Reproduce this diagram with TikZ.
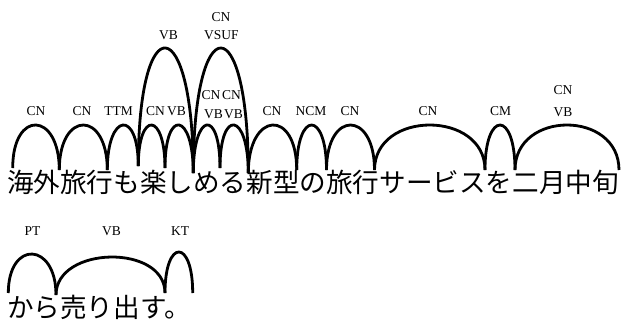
\documentclass[tikz,border=0pt]{standalone}
\usepackage{fontspec}
\setmainfont{Liberation Serif}
\newfontfamily\jpfont{Noto Sans CJK JP}
\tikzset{
  arcline/.style={line width=2.8pt},
  tag/.style={font=\fontsize{13.5}{13.5}\selectfont, inner sep=0pt},
  sent/.style={font=\jpfont\fontsize{26.6}{26.6}\selectfont, inner sep=0pt, anchor=base west},
}
% dependency arc between two named points, #3 = vertical reach of the control points
\newcommand\depcurve[3]{\draw[arcline] (#1) .. controls +(0,-#3) and +(0,-#3) .. (#2);}
\begin{document}
\begin{tikzpicture}[x=1pt,y=-1pt]
\useasboundingbox (0,0) rectangle (621,322);

% sentences
\node[sent] (s1) at (7,192) {海外旅行も楽しめる新型の旅行サービスを二月中旬};
\node[sent] (s2) at (7,317.5) {から売り出す。};

% arc end points, first line
\coordinate (p0) at (12.7,168);
\coordinate (p1) at (59.3,170);
\coordinate (p2) at (107.3,170);
\coordinate (p3) at (138.3,166);
\coordinate (p4) at (165,168);
\coordinate (p5) at (193.3,173);
\coordinate (p6) at (220,168);
\coordinate (p7) at (248.3,173);
\coordinate (p8) at (296.7,170);
\coordinate (p9) at (326.5,170);
\coordinate (p10) at (374.5,170);
\coordinate (p11) at (485,170);
\coordinate (p12) at (515,170);
\coordinate (p13) at (619,170);

% arc end points, second line
\coordinate (q0) at (8.3,293);
\coordinate (q1) at (56,295);
\coordinate (q2) at (165,293);
\coordinate (q3) at (192.7,293);

% first line arcs
\depcurve{p0}{p1}{58.7}
\depcurve{p1}{p2}{60}
\depcurve{p2}{p3}{57.3}
\depcurve{p3}{p4}{56}
\depcurve{p4}{p5}{60.7}
\depcurve{p5}{p6}{60.7}
\depcurve{p6}{p7}{60.7}
\depcurve{p7}{p8}{62}
\depcurve{p8}{p9}{60}
\depcurve{p9}{p10}{60}
\depcurve{p10}{p11}{60}
\depcurve{p11}{p12}{60}
\depcurve{p12}{p13}{60}
\depcurve{p3}{p5}{162}
\depcurve{p5}{p7}{166.7}

% second line arcs
\depcurve{q0}{q1}{53.3}
\depcurve{q1}{q2}{49.3}
\depcurve{q2}{q3}{54.7}

% first line labels
\node[tag] (l1) at (36,111.5) {CN};
\node[tag] (l2) at (82,111.5) {CN};
\node[tag] (l3) at (118.5,111.5) {TTM};
\node[tag] (l4) at (155.5,111.5) {CN};
\node[tag] (l5) at (176.5,111.5) {VB};
\node[tag] (l6a) at (211,95.5) {CN};
\node[tag] (l6b) at (213.5,114) {VB};
\node[tag] (l7a) at (231.5,95.5) {CN};
\node[tag] (l7b) at (233.5,114) {VB};
\node[tag] (l8) at (272,111.5) {CN};
\node[tag] (l9) at (311,111.5) {NCM};
\node[tag] (l10) at (350,111.5) {CN};
\node[tag] (l11) at (428,111.5) {CN};
\node[tag] (l12) at (500.5,111.5) {CM};
\node[tag] (l13a) at (563,90) {CN};
\node[tag] (l13b) at (563,112) {VB};
\node[tag] (l14) at (168.5,35.5) {VB};
\node[tag] (l15a) at (221,17) {CN};
\node[tag] (l15b) at (221.5,35.5) {VSUF};

% second line labels
\node[tag] (m1) at (32.5,231) {PT};
\node[tag] (m2) at (111.5,231) {VB};
\node[tag] (m3) at (180,231) {KT};
\end{tikzpicture}
\end{document}
